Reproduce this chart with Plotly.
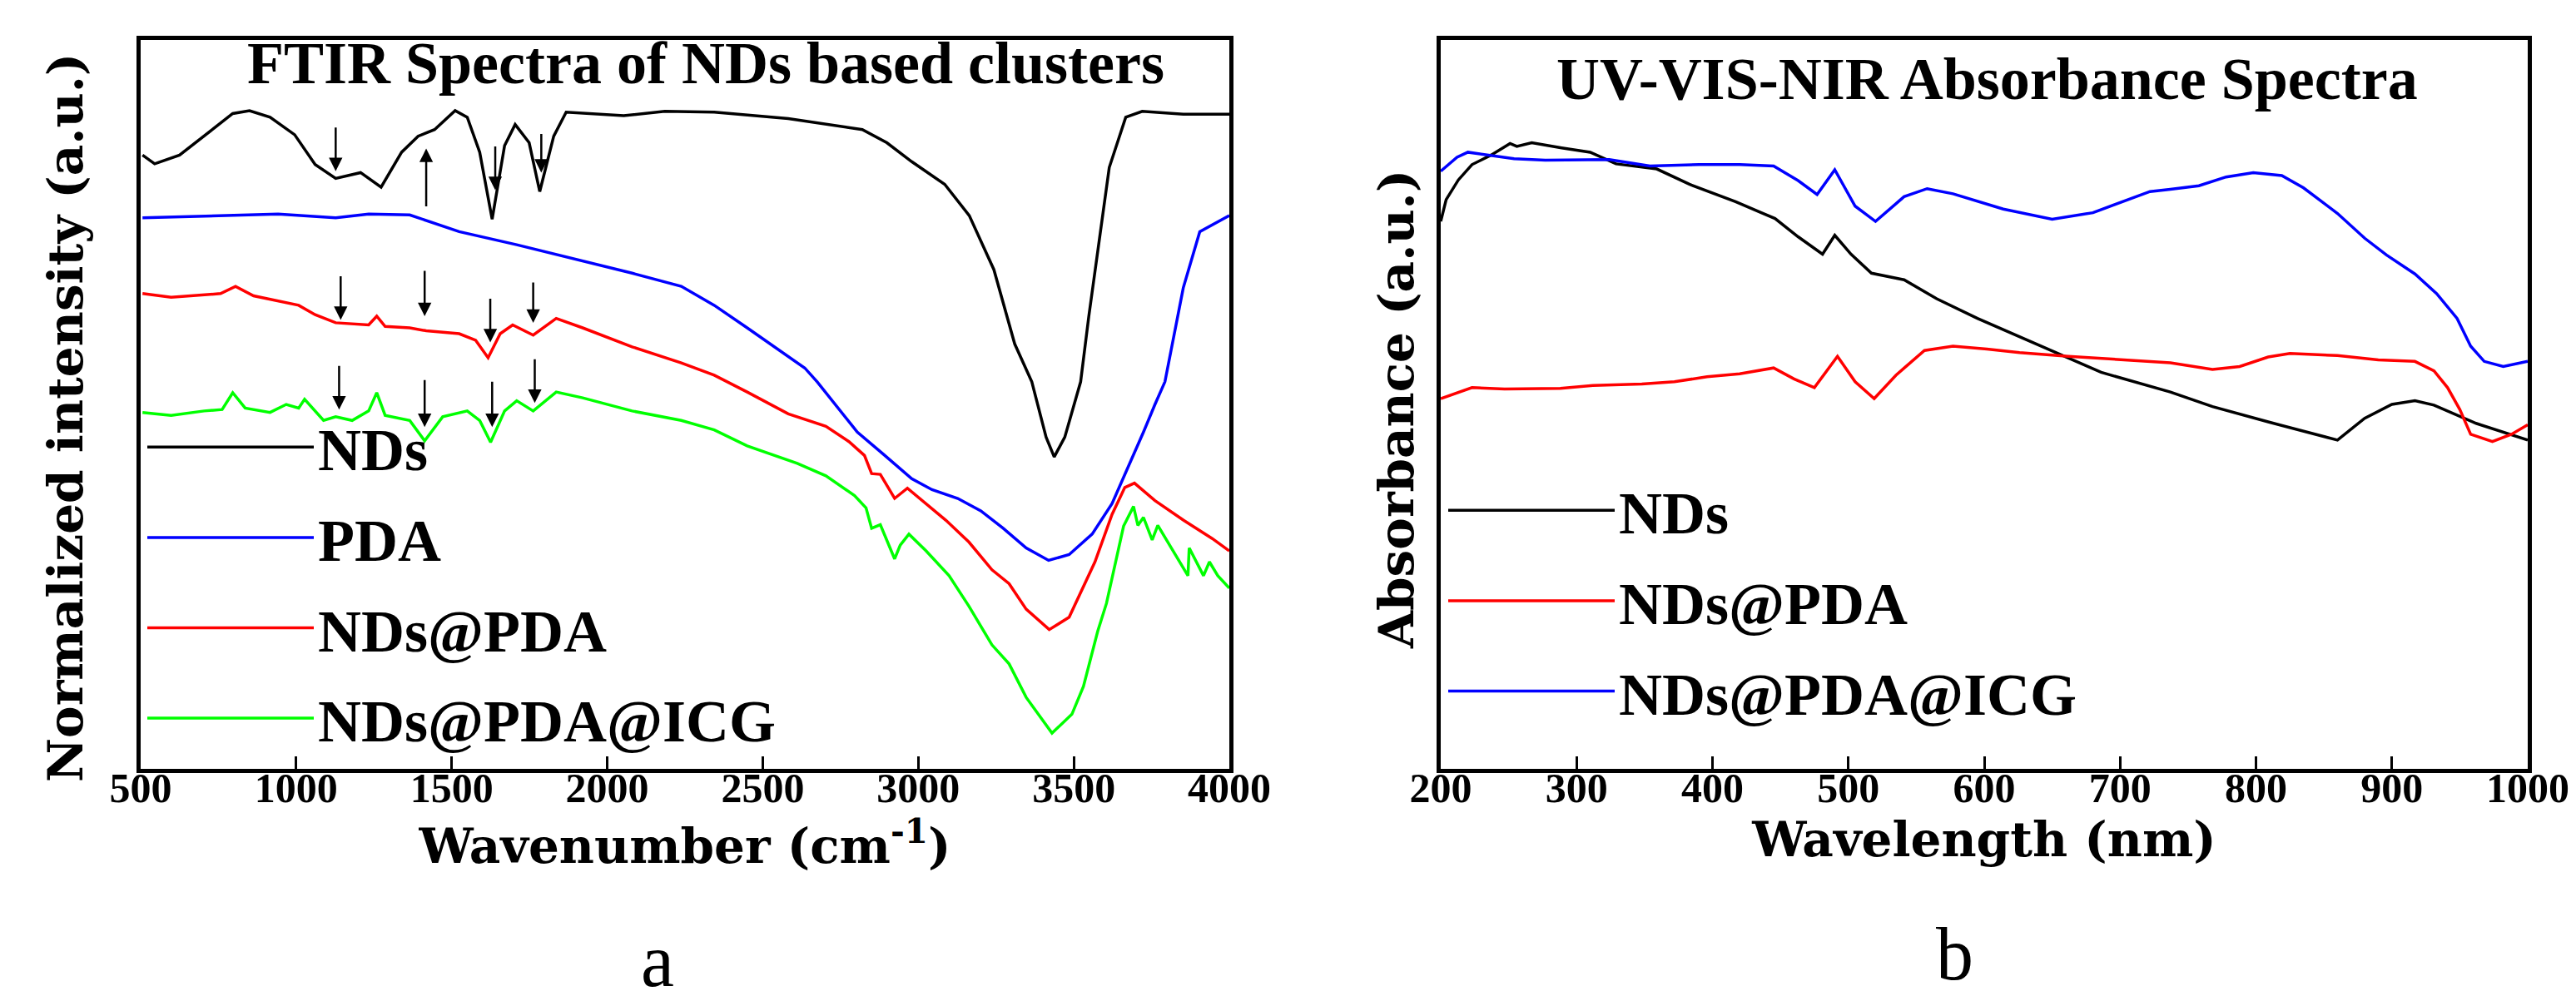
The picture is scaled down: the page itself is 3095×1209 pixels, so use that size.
import plotly.graph_objects as go

# ---- FTIR (panel a) ----
nds_wn = [506, 545, 625, 704, 796, 850, 916, 995, 1061, 1127, 1207, 1273, 1339, 1392, 1445,
          1511, 1550, 1590, 1630, 1670, 1704, 1749, 1783, 1828, 1868, 2053, 2185, 2344, 2582,
          2820, 2899, 2979, 3085, 3164, 3243, 3310, 3365, 3411, 3437, 3471, 3522, 3548, 3614,
          3667, 3720, 3852, 4000]
nds_ir = [84.2, 83.0, 84.2, 86.8, 89.9, 90.3, 89.4, 87.0, 82.9, 81.0, 81.8, 79.8, 84.6, 86.8, 87.7,
          90.3, 89.4, 84.6, 75.4, 85.5, 88.4, 85.9, 79.2, 86.8, 90.1, 89.6, 90.2, 90.1, 89.2,
          87.7, 85.9, 83.3, 80.2, 75.9, 68.5, 58.3, 53.1, 45.5, 42.8, 45.5, 53.1, 62.0, 82.5,
          89.4, 90.2, 89.8, 89.8]

pda_wn = [506, 730, 942, 1127, 1233, 1365, 1524, 1709, 1921, 2080, 2238, 2344, 2450, 2556, 2635,
          2675, 2714, 2804, 2887, 2979, 3044, 3127, 3201, 3273, 3347, 3419, 3485, 3559, 3623,
          3678, 3724, 3761, 3793, 3852, 3905, 4000]
pda_ir = [75.6, 75.9, 76.1, 75.6, 76.1, 76.0, 73.7, 71.9, 69.7, 68.0, 66.2, 63.6, 60.5, 57.4, 55.0,
          53.1, 51.0, 46.2, 43.2, 39.8, 38.3, 37.1, 35.4, 33.0, 30.3, 28.6, 29.4, 32.2, 36.4,
          41.7, 46.2, 50.0, 53.1, 66.0, 73.7, 75.9]

ndspda_wn = [506, 598, 757, 805, 863, 942, 1008, 1061, 1127, 1233, 1259, 1286, 1365, 1418, 1524,
             1577, 1617, 1656, 1696, 1762, 1836, 1921, 2080, 2238, 2344, 2450, 2582, 2703, 2777,
             2827, 2850, 2878, 2924, 2965, 3025, 3089, 3163, 3237, 3292, 3347, 3421, 3485, 3568,
             3623, 3664, 3695, 3761, 3853, 3945, 4000]
ndspda_ir = [65.2, 64.7, 65.2, 66.2, 64.9, 64.2, 63.6, 62.3, 61.2, 60.9, 62.1, 60.7, 60.5, 60.1, 59.7,
             58.8, 56.4, 59.7, 60.9, 59.5, 61.8, 60.5, 57.9, 55.7, 54.0, 51.7, 48.7, 47.0, 44.9,
             43.0, 40.5, 40.4, 37.1, 38.5, 36.4, 34.1, 31.1, 27.3, 25.4, 21.9, 19.1, 20.8, 28.4,
             34.9, 38.6, 39.2, 36.8, 34.1, 31.6, 29.9]

icg_wn = [506, 598, 704, 762, 796, 836, 916, 968, 1008, 1027, 1088, 1127, 1180, 1233, 1259, 1286,
          1365, 1413, 1471, 1550, 1590, 1625, 1670, 1709, 1762, 1836, 1921, 2080, 2238, 2344,
          2450, 2611, 2703, 2795, 2832, 2850, 2878, 2924, 2942, 2970, 3025, 3099, 3163, 3237,
          3292, 3347, 3430, 3494, 3531, 3577, 3605, 3632, 3660, 3692, 3706, 3724, 3752, 3770,
          3807, 3834, 3867, 3871, 3899, 3917, 3936, 3963, 4000]
icg_ir = [48.9, 48.5, 49.1, 49.3, 51.6, 49.5, 48.9, 50.0, 49.5, 50.7, 47.8, 48.3, 47.8, 49.1, 51.6, 48.5,
          47.8, 45.0, 48.3, 49.1, 47.8, 44.8, 49.1, 50.5, 49.1, 51.7, 50.9, 49.1, 47.8, 46.5,
          44.3, 41.9, 40.2, 37.5, 35.8, 33.0, 33.5, 28.8, 30.7, 32.2, 29.9, 26.5, 22.3, 17.0,
          14.4, 9.8, 4.9, 7.5, 11.3, 18.9, 22.7, 28.0, 33.3, 36.0, 33.4, 34.5, 31.4, 33.4,
          30.7, 28.8, 26.5, 30.3, 28.0, 26.5, 28.4, 26.5, 24.8]

# marked bands (arrow tips) and arrow lengths in px (negative = arrow points down)
arrow_wn = [1127, 1418, 1640, 1788, 1143, 1413, 1624, 1762, 1138, 1413, 1630, 1767]
arrow_ir = [82.0, 85.1, 79.4, 81.8, 61.6, 62.1, 58.5, 61.2, 49.3, 46.9, 46.9, 50.2]
arrow_len = [-54, 71, -54, -48, -54, -56, -54, -50, -54, -58, -56, -54]

# ---- UV-VIS-NIR (panel b) ----
uv_nds_wl = [200, 204, 213, 223, 237, 251, 256, 267, 289, 310, 329, 359, 383, 417, 446, 463,
             481, 490, 502, 517, 541, 565, 595, 638, 686, 737, 768, 809, 860, 880, 900, 917,
             931, 962, 1000]
uv_nds_ab = [75.1, 78.1, 80.8, 82.9, 84.2, 85.8, 85.4, 85.9, 85.2, 84.6, 83.0, 82.3, 80.2, 77.8, 75.5, 73.0,
             70.6, 73.2, 70.6, 68.0, 67.1, 64.5, 61.8, 58.3, 54.4, 51.7, 49.7, 47.6, 45.1, 48.1, 50.0, 50.5,
             49.9, 47.4, 45.1]

uv_pda_wl = [200, 223, 247, 269, 288, 312, 348, 372, 396, 420, 445, 460, 475, 492, 505, 519, 535,
             556, 577, 602, 626, 662, 698, 737, 768, 788, 809, 825, 860, 890, 917, 931, 941, 950,
             958, 974, 988, 1000]
uv_pda_ab = [50.8, 52.3, 52.1, 52.1, 52.2, 52.6, 52.8, 53.1, 53.8, 54.2, 55.0, 53.5, 52.3, 56.6, 53.1, 50.8, 54.0,
             57.4, 58.0, 57.6, 57.1, 56.6, 56.2, 55.7, 54.8, 55.2, 56.5, 57.0, 56.7, 56.1, 55.9, 54.6, 52.3, 49.3,
             45.9, 44.9, 45.9, 47.2]

uv_icg_wl = [200, 212, 220, 239, 254, 277, 303, 324, 354, 390, 420, 445, 463, 477, 490, 505, 520,
             541, 558, 577, 614, 650, 680, 722, 737, 758, 778, 798, 819, 835, 860, 880, 896, 917,
             933, 948, 958, 968, 982, 1000]
uv_icg_ab = [82.0, 83.9, 84.6, 84.1, 83.7, 83.5, 83.6, 83.6, 82.7, 82.9, 82.9, 82.7, 80.7, 78.8, 82.2, 77.2, 75.1,
             78.5, 79.6, 78.9, 76.8, 75.4, 76.3, 79.2, 79.5, 80.0, 81.2, 81.8, 81.4, 79.7, 76.2, 72.8, 70.5, 67.9,
             65.2, 61.8, 58.0, 55.9, 55.2, 55.9]

fig = go.Figure()

ftir = [("NDs", nds_wn, nds_ir, "#000000"),
        ("PDA", pda_wn, pda_ir, "#0000ff"),
        ("NDs@PDA", ndspda_wn, ndspda_ir, "#ff0000"),
        ("NDs@PDA@ICG", icg_wn, icg_ir, "#00ff00")]
for name, xs, ys, col in ftir:
    fig.add_trace(go.Scatter(x=xs, y=ys, name=name, mode="lines", legend="legend",
                             legendgroup="a" + name, line=dict(color=col, width=3.5),
                             xaxis="x", yaxis="y"))

uvvis = [("NDs", uv_nds_wl, uv_nds_ab, "#000000"),
         ("NDs@PDA", uv_pda_wl, uv_pda_ab, "#ff0000"),
         ("NDs@PDA@ICG", uv_icg_wl, uv_icg_ab, "#0000ff")]
for name, xs, ys, col in uvvis:
    fig.add_trace(go.Scatter(x=xs, y=ys, name=name, mode="lines", legend="legend2",
                             legendgroup="b" + name, line=dict(color=col, width=3.5),
                             xaxis="x2", yaxis="y2"))

W, H = 3095, 1209
tickfont = dict(family="Liberation Serif", size=50, color="black", weight="bold")
xtitlefont = dict(family="DejaVu Serif", size=58, color="black", weight="bold")
ytitlefont = dict(family="DejaVu Serif", size=58, color="black", weight="bold")
legfont = dict(family="Liberation Serif", size=72, color="black", weight="bold")

xcommon = dict(showline=True, linewidth=5, linecolor="black", mirror=True, ticks="inside",
               ticklen=15, tickwidth=3, tickcolor="black", showgrid=False, zeroline=False,
               tickfont=tickfont, ticklabelstandoff=-25, automargin=False)
ycommon = dict(showline=True, linewidth=5, linecolor="black", mirror=True, ticks="",
               showticklabels=False, showgrid=False, zeroline=False, range=[0, 100],
               automargin=False)

fig.update_layout(
    template="none",
    width=W, height=H, margin=dict(l=0, r=0, t=0, b=0, pad=0),
    paper_bgcolor="white", plot_bgcolor="white",
    xaxis=dict(domain=[161 / W, 1469 / W], range=[500, 4000], tickvals=list(range(500, 4001, 500)),
               title=dict(text="Wavenumber (cm<sup>-1</sup>)", font=xtitlefont, standoff=13), **xcommon),
    yaxis=dict(domain=[1 - 916 / H, 1 - 40 / H], **ycommon),
    xaxis2=dict(domain=[1723 / W, 3029 / W], range=[200, 1000], tickvals=list(range(200, 1001, 100)),
                anchor="y2", title=dict(text="Wavelength (nm)", font=xtitlefont, standoff=0), **xcommon),
    yaxis2=dict(domain=[1 - 916 / H, 1 - 40 / H], anchor="x2", **ycommon),
    legend=dict(x=164 / W, y=1 - 476 / H, xanchor="left", yanchor="top", font=legfont,
                itemwidth=200, tracegroupgap=12, bgcolor="rgba(0,0,0,0)"),
    legend2=dict(x=1727 / W, y=1 - 552 / H, xanchor="left", yanchor="top", font=legfont,
                 itemwidth=200, tracegroupgap=12, bgcolor="rgba(0,0,0,0)"),
    showlegend=True,
)

# y-axis titles (the left one sits a little below the frame centre, as in the original)
fig.add_annotation(text="Normalized intensity (a.u.)", x=71 / W, y=1 - 494 / H,
                   xref="paper", yref="paper", xanchor="center", yanchor="middle",
                   textangle=-90, showarrow=False, font=ytitlefont)
fig.add_annotation(text="Absorbance (a.u.)", x=1670 / W, y=1 - 484 / H,
                   xref="paper", yref="paper", xanchor="center", yanchor="middle",
                   textangle=-90, showarrow=False, font=ytitlefont)

serif_title = dict(family="Liberation Serif", size=72, color="black", weight="bold")
fig.add_annotation(text="FTIR Spectra of NDs based clusters", x=840 / W, y=1 - 68 / H,
                   xref="paper", yref="paper", xanchor="center", yanchor="middle",
                   showarrow=False, font=serif_title)
fig.add_annotation(text="UV-VIS-NIR Absorbance Spectra", x=2379 / W, y=1 - 87 / H,
                   xref="paper", yref="paper", xanchor="center", yanchor="middle",
                   showarrow=False, font=serif_title)

panel_font = dict(family="Liberation Serif", size=90, color="black")
fig.add_annotation(text="a", x=782 / W, y=1 - 1146 / H, xref="paper", yref="paper",
                   xanchor="center", yanchor="middle", showarrow=False, font=panel_font)
fig.add_annotation(text="b", x=2340 / W, y=1 - 1138 / H, xref="paper", yref="paper",
                   xanchor="center", yanchor="middle", showarrow=False, font=panel_font)

for xa, ya, length in zip(arrow_wn, arrow_ir, arrow_len):
    fig.add_annotation(x=xa, y=ya, xref="x", yref="y", text="", showarrow=True,
                       arrowhead=2, arrowsize=1.3, arrowwidth=2.5, arrowcolor="black",
                       ax=0, ay=length)

fig.write_html("out.html")
